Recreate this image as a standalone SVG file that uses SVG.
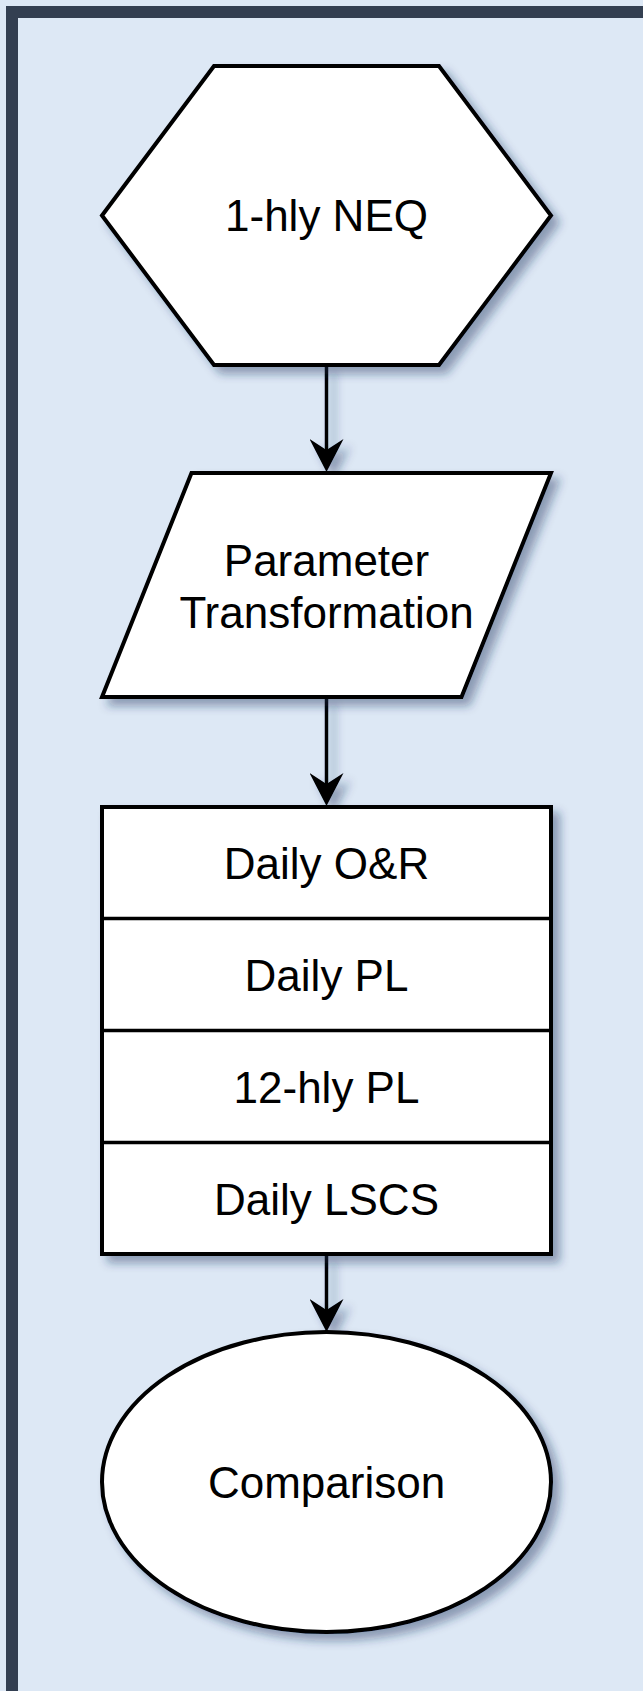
<svg xmlns="http://www.w3.org/2000/svg" width="643" height="1691" viewBox="0 0 643 1691">
  <style>
    .shape { fill: #ffffff; stroke: #000000; stroke-width: 4; stroke-linejoin: miter; }
    .divider { fill: none; stroke: #000000; stroke-width: 3.5; }
    .label { font-family: "Liberation Sans", Arial, Helvetica, sans-serif; font-size: 44px; fill: #000000; text-anchor: middle; }
    .edge { fill: none; stroke: #000000; stroke-width: 3.5; }
  </style>
  <defs>
    <filter id="shadow" x="-10%" y="-10%" width="130%" height="130%">
      <feDropShadow dx="7" dy="7" stdDeviation="5" flood-color="#1f2d5a" flood-opacity="0.42"/>
    </filter>
    <filter id="edgeShadow" filterUnits="userSpaceOnUse" x="0" y="0" width="643" height="1691">
      <feDropShadow dx="7" dy="7" stdDeviation="5" flood-color="#1f2d5a" flood-opacity="0.42"/>
    </filter>
    <marker id="arrow" markerUnits="userSpaceOnUse" viewBox="0 0 34 34" markerWidth="34" markerHeight="34" refX="11" refY="17" orient="auto">
      <path d="M0,0 L33,17 L0,34 L11,17 Z" fill="#000000"/>
    </marker>
  </defs>

  <rect x="0" y="0" width="643" height="1691" fill="#dde8f5"/>
  <g id="frame">
    <rect x="12" y="12" width="720" height="1780" fill="#dde8f5" stroke="#333f51" stroke-width="12"/>
  </g>

  <g id="connectors" filter="url(#edgeShadow)">
    <line class="edge" x1="326.5" y1="365" x2="326.5" y2="450" marker-end="url(#arrow)"/>
    <line class="edge" x1="326.5" y1="697" x2="326.5" y2="784" marker-end="url(#arrow)"/>
    <line class="edge" x1="326.5" y1="1254" x2="326.5" y2="1310" marker-end="url(#arrow)"/>
  </g>

  <g id="node-neq">
    <polygon class="shape" filter="url(#shadow)" points="102,215.5 214,66 439,66 551,215.5 439,365 214,365"/>
    <text class="label" x="326.5" y="231">1-hly NEQ</text>
  </g>

  <g id="node-transform">
    <polygon class="shape" filter="url(#shadow)" points="191.5,473 551,473 461.5,697 102,697"/>
    <text class="label" x="326.5" y="576">Parameter</text>
    <text class="label" x="326.5" y="628">Transformation</text>
  </g>

  <g id="node-stack">
    <rect class="shape" filter="url(#shadow)" x="102" y="807" width="449" height="447"/>
    <line class="divider" x1="102" y1="918.5" x2="551" y2="918.5"/>
    <line class="divider" x1="102" y1="1030.5" x2="551" y2="1030.5"/>
    <line class="divider" x1="102" y1="1142.5" x2="551" y2="1142.5"/>
    <text class="label" x="326.5" y="879">Daily O&amp;R</text>
    <text class="label" x="326.5" y="991">Daily PL</text>
    <text class="label" x="326.5" y="1103">12-hly PL</text>
    <text class="label" x="326.5" y="1215">Daily LSCS</text>
  </g>

  <g id="node-comparison">
    <ellipse class="shape" filter="url(#shadow)" cx="326.5" cy="1482" rx="224.5" ry="150"/>
    <text class="label" x="326.5" y="1498">Comparison</text>
  </g>
</svg>
